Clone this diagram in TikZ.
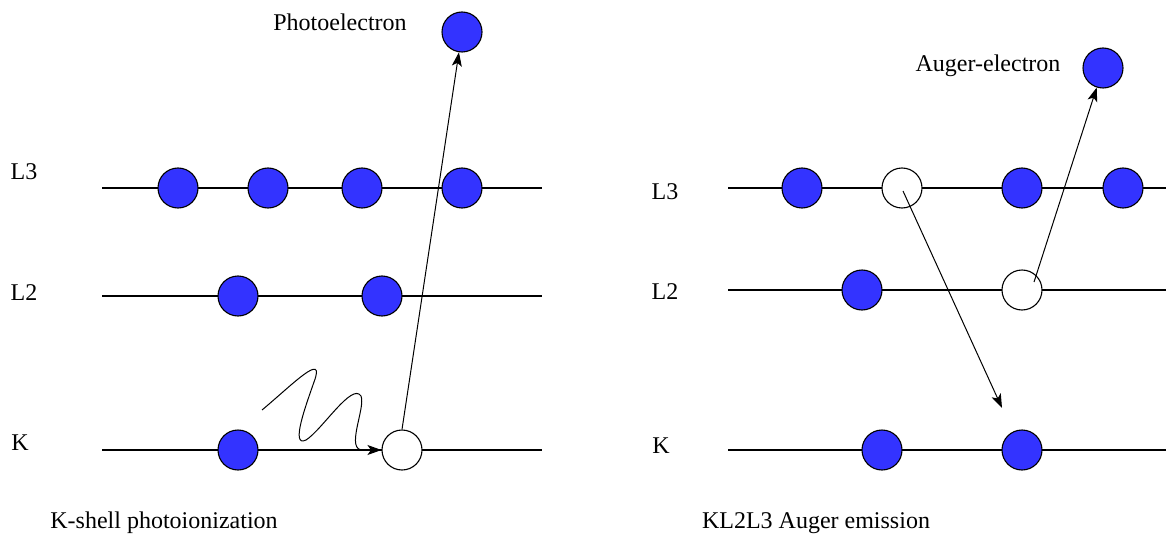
\documentclass[tikz,border=0pt]{standalone}
\usepackage{fontspec}
\setmainfont{Liberation Serif}
\usetikzlibrary{arrows.meta}
\definecolor{electronblue}{RGB}{51,51,255}

\begin{document}
\begin{tikzpicture}[
  x=1pt, y=-1pt,
  electron/.style={
    circle,
    draw,
    line width=1.1pt,
    fill=electronblue,
    minimum size=40pt,
    inner sep=0pt
  },
  hole/.style={
    electron,
    fill=white
  },
  level/.style={
    line width=1.2pt
  },
  arr/.style={
    -{Stealth[length=14pt,width=10pt,inset=3.5pt]},
    line width=1pt
  },
  lbl/.style={
    font=\fontsize{24}{28}\selectfont,
    inner sep=0pt
  }
]
\useasboundingbox (0,0) rectangle (1166,540);

% Left panel: levels
\coordinate (aL3w) at (102,188); \coordinate (aL3e) at (542,188);
\coordinate (aL2w) at (102,296); \coordinate (aL2e) at (542,296);
\coordinate (aKw)  at (102,450); \coordinate (aKe)  at (542,450);
\draw[level] (aL3w) -- (aL3e);
\draw[level] (aL2w) -- (aL2e);
\draw[level] (aKw) -- (aKe);

\node[lbl] (aL3) at (24,172) {L3};
\node[lbl] (aL2) at (24,293) {L2};
\node[lbl] (aK)  at (20,443) {K};

% Left panel: electrons
\node[electron] (a31) at (178,188) {};
\node[electron] (a32) at (268,188) {};
\node[electron] (a33) at (362,188) {};
\node[electron] (a34) at (462,188) {};
\node[electron] (a21) at (238,296) {};
\node[electron] (a22) at (382,296) {};
\node[electron] (ak1) at (238,450) {};
\node[hole]     (ak2) at (402,450) {};
\node[electron] (photo) at (462,32) {};
\node[lbl] (photolbl) at (340,22) {Photoelectron};

% Photon and ejected electron
\coordinate (wave) at (262,410);
\draw[arr] (wave) .. controls (292,385) and (326,350) .. (314,382)
  .. controls (306,405) and (290,448) .. (306,440)
  .. controls (322,430) and (352,382) .. (361,396)
  .. controls (366,408) and (344,452) .. (364,450)
  -- (ak2.west);
\draw[arr] (ak2.north) -- (photo);

\node[lbl] (acap) at (164,523) {K-shell photoionization};

% Right panel: levels
\coordinate (bL3w) at (728,188); \coordinate (bL3e) at (1166,188);
\coordinate (bL2w) at (728,290); \coordinate (bL2e) at (1166,290);
\coordinate (bKw)  at (728,450); \coordinate (bKe)  at (1166,450);
\draw[level] (bL3w) -- (bL3e);
\draw[level] (bL2w) -- (bL2e);
\draw[level] (bKw) -- (bKe);

\node[lbl] (bL3) at (665,192) {L3};
\node[lbl] (bL2) at (665,292) {L2};
\node[lbl] (bK)  at (661,446) {K};

% Right panel: electrons
\node[electron] (b31) at (802,188) {};
\node[hole]     (b32) at (902,188) {};
\node[electron] (b33) at (1022,188) {};
\node[electron] (b34) at (1123,188) {};
\node[electron] (b21) at (862,290) {};
\node[hole]     (b22) at (1022,290) {};
\node[electron] (bk1) at (882,450) {};
\node[electron] (bk2) at (1022,450) {};
\node[electron] (auger) at (1103,68) {};
\node[lbl] (augerlbl) at (988,66) {Auger-electron};

% Transition and emission
\coordinate (fall) at (1002,408);
\draw[arr] (b32.center) ++(1,3) coordinate (fallstart) (fallstart) -- (fall);
\draw[arr] (b22.center) ++(12,-8) coordinate (emitstart) (emitstart) -- (auger);

\node[lbl] (bcap) at (816,523) {KL2L3 Auger emission};

\end{tikzpicture}
\end{document}
